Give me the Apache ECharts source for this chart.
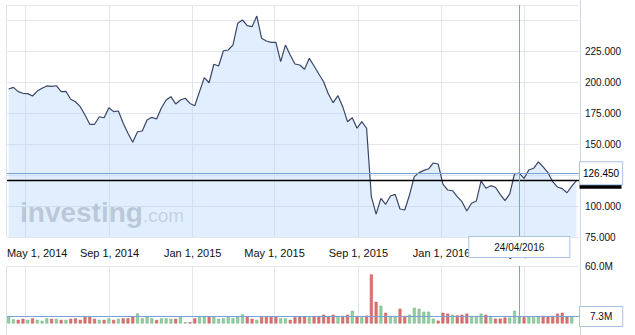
<!DOCTYPE html>
<html><head><meta charset="utf-8">
<script src="https://cdn.jsdelivr.net/npm/echarts@6/dist/echarts.min.js"></script>
<style>html,body{margin:0;padding:0;background:#fff}#c{width:635px;height:335px}</style>
</head><body><div id="c"></div>
<script>
// Weekly dates (Sunday of each week)
const dates = [
'2014-04-06','2014-04-13','2014-04-20','2014-04-27','2014-05-04','2014-05-11','2014-05-18','2014-05-25','2014-06-01','2014-06-08',
'2014-06-15','2014-06-22','2014-06-29','2014-07-06','2014-07-13','2014-07-20','2014-07-27','2014-08-03','2014-08-10','2014-08-17',
'2014-08-24','2014-08-31','2014-09-07','2014-09-14','2014-09-21','2014-09-28','2014-10-05','2014-10-12','2014-10-19','2014-10-26',
'2014-11-02','2014-11-09','2014-11-16','2014-11-23','2014-11-30','2014-12-07','2014-12-14','2014-12-21','2014-12-28','2015-01-04',
'2015-01-11','2015-01-18','2015-01-25','2015-02-01','2015-02-08','2015-02-15','2015-02-22','2015-03-01','2015-03-08','2015-03-15',
'2015-03-22','2015-03-29','2015-04-05','2015-04-12','2015-04-19','2015-04-26','2015-05-03','2015-05-10','2015-05-17','2015-05-24',
'2015-05-31','2015-06-07','2015-06-14','2015-06-21','2015-06-28','2015-07-05','2015-07-12','2015-07-19','2015-07-26','2015-08-02',
'2015-08-09','2015-08-16','2015-08-23','2015-08-30','2015-09-06','2015-09-13','2015-09-20','2015-09-27','2015-10-04','2015-10-11',
'2015-10-18','2015-10-25','2015-11-01','2015-11-08','2015-11-15','2015-11-22','2015-11-29','2015-12-06','2015-12-13','2015-12-20',
'2015-12-27','2016-01-03','2016-01-10','2016-01-17','2016-01-24','2016-01-31','2016-02-07','2016-02-14','2016-02-21','2016-02-28',
'2016-03-06','2016-03-13','2016-03-20','2016-03-27','2016-04-03','2016-04-10','2016-04-17','2016-04-24','2016-05-01','2016-05-08',
'2016-05-15','2016-05-22','2016-05-29','2016-06-05','2016-06-12','2016-06-19','2016-06-26','2016-07-03','2016-07-10','2016-07-17'
];
// Weekly close
const price = [
194.4,195.7,192.2,190.9,190.6,188.7,192.7,194.9,196.8,196.5,
197.0,192.2,192.5,186.1,184.1,180.1,173.4,165.9,165.9,172.0,
171.2,179.3,176.1,176.6,166.7,158.6,151.4,159.9,160.5,169.4,
171.5,170.2,179.0,185.5,188.2,182.3,185.5,186.9,182.7,180.9,
192.2,203.5,199.4,214.3,212.9,225.2,225.8,229.8,247.3,250.0,
245.4,244.6,253.2,235.3,233.1,232.0,232.0,216.4,229.8,221.8,
214.5,213.7,210.3,219.1,212.9,206.5,200.2,190.3,183.3,189.0,
180.1,168.0,171.2,162.7,168.0,162.7,107.5,93.5,106.2,101.4,
108.1,109.4,97.6,96.8,108.9,123.7,126.9,128.7,130.0,134.7,
133.9,117.7,112.9,112.3,107.5,103.5,96.0,102.2,104.0,120.2,
114.3,116.4,115.1,109.4,104.3,109.7,125.8,126.45,122.3,129.0,
130.4,135.5,131.5,127.0,119.6,115.3,114.0,110.7,116.1,120.7
];
// Weekly volume (millions)
const volume = [
7.1,4.4,3.8,4.9,3.8,5.4,3.8,2.8,5.4,4.9,
4.9,3.8,3.8,4.9,5.4,3.8,6.9,6.9,4.9,3.8,
3.8,5.4,3.8,4.9,5.4,5.4,7.5,10.6,5.4,7.5,
5.4,3.8,5.4,5.4,4.9,4.9,7.1,1.4,1.4,5.4,
6.9,7.5,6.9,6.9,4.9,5.4,6.9,5.4,6.9,9.5,
6.9,4.9,3.8,6.9,6.9,6.9,6.9,5.4,5.4,3.8,
6.5,7.1,7.1,6.5,7.5,7.9,9.2,7.5,9.2,7.5,
7.9,9.2,13.3,7.9,6.5,8.2,51.2,22.6,18.5,11.2,
7.9,7.9,15.3,7.9,9.2,16.4,15.3,12.3,12.3,5.1,
3.0,11.2,10.3,9.2,8.5,9.2,10.3,7.9,7.9,10.3,
9.2,7.9,5.1,5.1,6.2,6.2,13.3,7.3,6.5,7.5,
6.5,7.5,7.9,7.5,7.9,10.3,11.2,7.5,7.5,null
];
// u = up week (green), d = down week (red)
const volDir = 'uudduduuud'+'ududdddddu'+'dududdduuu'+'uduuuduudd'+'uuduuuuuuu'+
               'ddudddduud'+'dddudddddu'+'ddududddud'+'uudduuuuuu'+'ddduddduuu'+
               'duddduuudu'+'uuddddddud';
const xTickDates = ['2014-05-01','2014-09-01','2015-01-01','2015-05-01','2015-09-01','2016-01-01','2016-05-01'];
const crossIndex = 107;      // highlighted week 24/04/2016
const lastIndex = price.length - 1;
const monthNames = ['Jan','Feb','Mar','Apr','May','Jun','Jul','Aug','Sep','Oct','Nov','Dec'];

function toTime(s){const p=s.split('-').map(Number);return new Date(p[0],p[1]-1,p[2]).getTime();}
const HOUR = 3600e3;
const xMin = toTime('2014-04-03') + 14*HOUR;
const xMax = toTime('2016-07-20') + 14*HOUR;
const xTicks = xTickDates.map(toTime);
const crossTime = toTime(dates[crossIndex]);
function fmtDay(t){const d=new Date(t);return monthNames[d.getMonth()]+' '+d.getDate()+', '+d.getFullYear();}
function fmtDMY(s){const p=s.split('-');return p[2]+'/'+p[1]+'/'+p[0];}

const font = "'Liberation Sans', Arial, sans-serif";
const gridLine = '#e3e6ec';
const crossColor = '#7ba1d3';
const boxBorder = '#a9c3e5';

const chart = echarts.init(document.getElementById('c'), null, {renderer:'svg'});
chart.setOption({
  animation:false,
  textStyle:{fontFamily:font},
  grid:[
    {left:7,right:56,top:5,height:232},
    {left:7,right:56,top:266,height:57.5}
  ],
  xAxis:[
    {type:'value',gridIndex:0,min:xMin,max:xMax,scale:true,
     axisLine:{show:false},axisTick:{show:false,customValues:xTicks},
     axisLabel:{customValues:xTicks,color:'#111',fontSize:11,margin:10,fontFamily:font,
       formatter:function(v){const s=fmtDay(v);return v===xTicks[0]?'{f|'+s+'}':s;},
       rich:{f:{padding:[0,0,0,23],fontSize:11,color:'#111',fontFamily:font}}},
     splitLine:{show:true,lineStyle:{color:gridLine,width:1}}},
    {type:'value',gridIndex:1,min:xMin,max:xMax,scale:true,
     axisLine:{show:false},axisTick:{show:false,customValues:xTicks},
     axisLabel:{show:false,customValues:xTicks},
     splitLine:{show:true,lineStyle:{color:gridLine,width:1}}}
  ],
  yAxis:[
    {type:'value',gridIndex:0,position:'right',min:75,max:262.1,interval:25,
     axisLine:{show:false},axisTick:{show:false},
     axisLabel:{margin:6,color:'#111',fontSize:10,fontFamily:font,
       // the 125 label sits under the crosshair value box, as in the original
       formatter:function(v){return (v<=225 && v!==125)?v.toFixed(3):'';}},
     splitLine:{lineStyle:{color:gridLine,width:1}}},
    {type:'value',gridIndex:1,position:'right',min:0,max:60,interval:60,
     axisLine:{show:false},axisTick:{show:false},
     axisLabel:{margin:6,color:'#111',fontSize:10,fontFamily:font,
       formatter:function(v){return v===60?v.toFixed(1)+'M':'';}},
     splitLine:{lineStyle:{color:['rgba(0,0,0,0)',gridLine],width:1}}}
  ],
  series:[
    {type:'line',xAxisIndex:0,yAxisIndex:0,
     data:dates.map(function(d,i){return [toTime(d),price[i]];}),
     symbol:'none',showSymbol:false,
     lineStyle:{color:'#3a4567',width:1.2},
     areaStyle:{color:'rgba(170,207,250,0.5)',origin:'start'},
     markLine:{symbol:'none',silent:true,animation:false,
       data:[
         [{xAxis:xMin,yAxis:price[lastIndex],symbol:'none',lineStyle:{color:'#000',width:1.3,type:'solid'},label:{show:false}},
          {xAxis:xMax,yAxis:price[lastIndex],symbol:'rect',symbolSize:[42,17],symbolRotate:0,symbolOffset:[21.5,0],
           itemStyle:{color:'#000'}}],
         {yAxis:price[crossIndex],lineStyle:{color:crossColor,width:1,type:'solid'},
          label:{position:'end',distance:1,formatter:price[crossIndex].toFixed(3),color:'#000',backgroundColor:'#fff',
                 borderColor:boxBorder,borderWidth:1,padding:[5,3],fontSize:10,lineHeight:12,fontFamily:font}},
         {xAxis:crossTime,lineStyle:{color:crossColor,width:1,type:'solid'},
          label:{position:'start',distance:0,formatter:fmtDMY(dates[crossIndex]),color:'#111',backgroundColor:'#fff',
                 borderColor:boxBorder,borderWidth:1,padding:[4,25],fontSize:10,lineHeight:12,fontFamily:font}}
       ]}
    },
    {type:'bar',xAxisIndex:1,yAxisIndex:1,barWidth:3,
     data:dates.map(function(d,i){
       const up = volDir[i]==='u';
       return {value:[toTime(d),volume[i]],
               itemStyle:{color:up?'#93cda1':'#d8736f',borderColor:up?'#72b584':'#c65b57',borderWidth:0.5}};
     }),
     markLine:{symbol:'none',silent:true,animation:false,
       data:[
         {yAxis:volume[crossIndex],lineStyle:{color:crossColor,width:1,type:'solid'},
          label:{position:'end',distance:1,formatter:volume[crossIndex].toFixed(1)+'M',color:'#111',backgroundColor:'#fff',
                 borderColor:boxBorder,borderWidth:1,padding:[4,10],fontSize:10,lineHeight:11,fontFamily:font}},
         {xAxis:crossTime,lineStyle:{color:crossColor,width:1,type:'solid'},label:{show:false}}
       ]}
    }
  ],
  graphic:[
    {type:'line',silent:true,z:0,shape:{x1:580.5,y1:0,x2:580.5,y2:335},style:{stroke:'#cdd8e8',lineWidth:1}},
    {type:'line',silent:true,z:0,shape:{x1:6.5,y1:5,x2:6.5,y2:237},style:{stroke:'#dfe3ea',lineWidth:1}},
    {type:'line',silent:true,z:0,shape:{x1:6.5,y1:266,x2:6.5,y2:335},style:{stroke:'#dfe3ea',lineWidth:1}},
    {type:'text',silent:true,z:10,left:20,top:198,
     style:{text:'{a|investing}{b|.com}',
       rich:{a:{fontSize:28,fontWeight:'bold',fill:'rgba(105,118,140,0.32)',fontFamily:font},
             b:{fontSize:19,fill:'rgba(105,118,140,0.25)',fontFamily:font,padding:[6,0,0,0]}}}}
  ]
});
</script>
</body></html>
